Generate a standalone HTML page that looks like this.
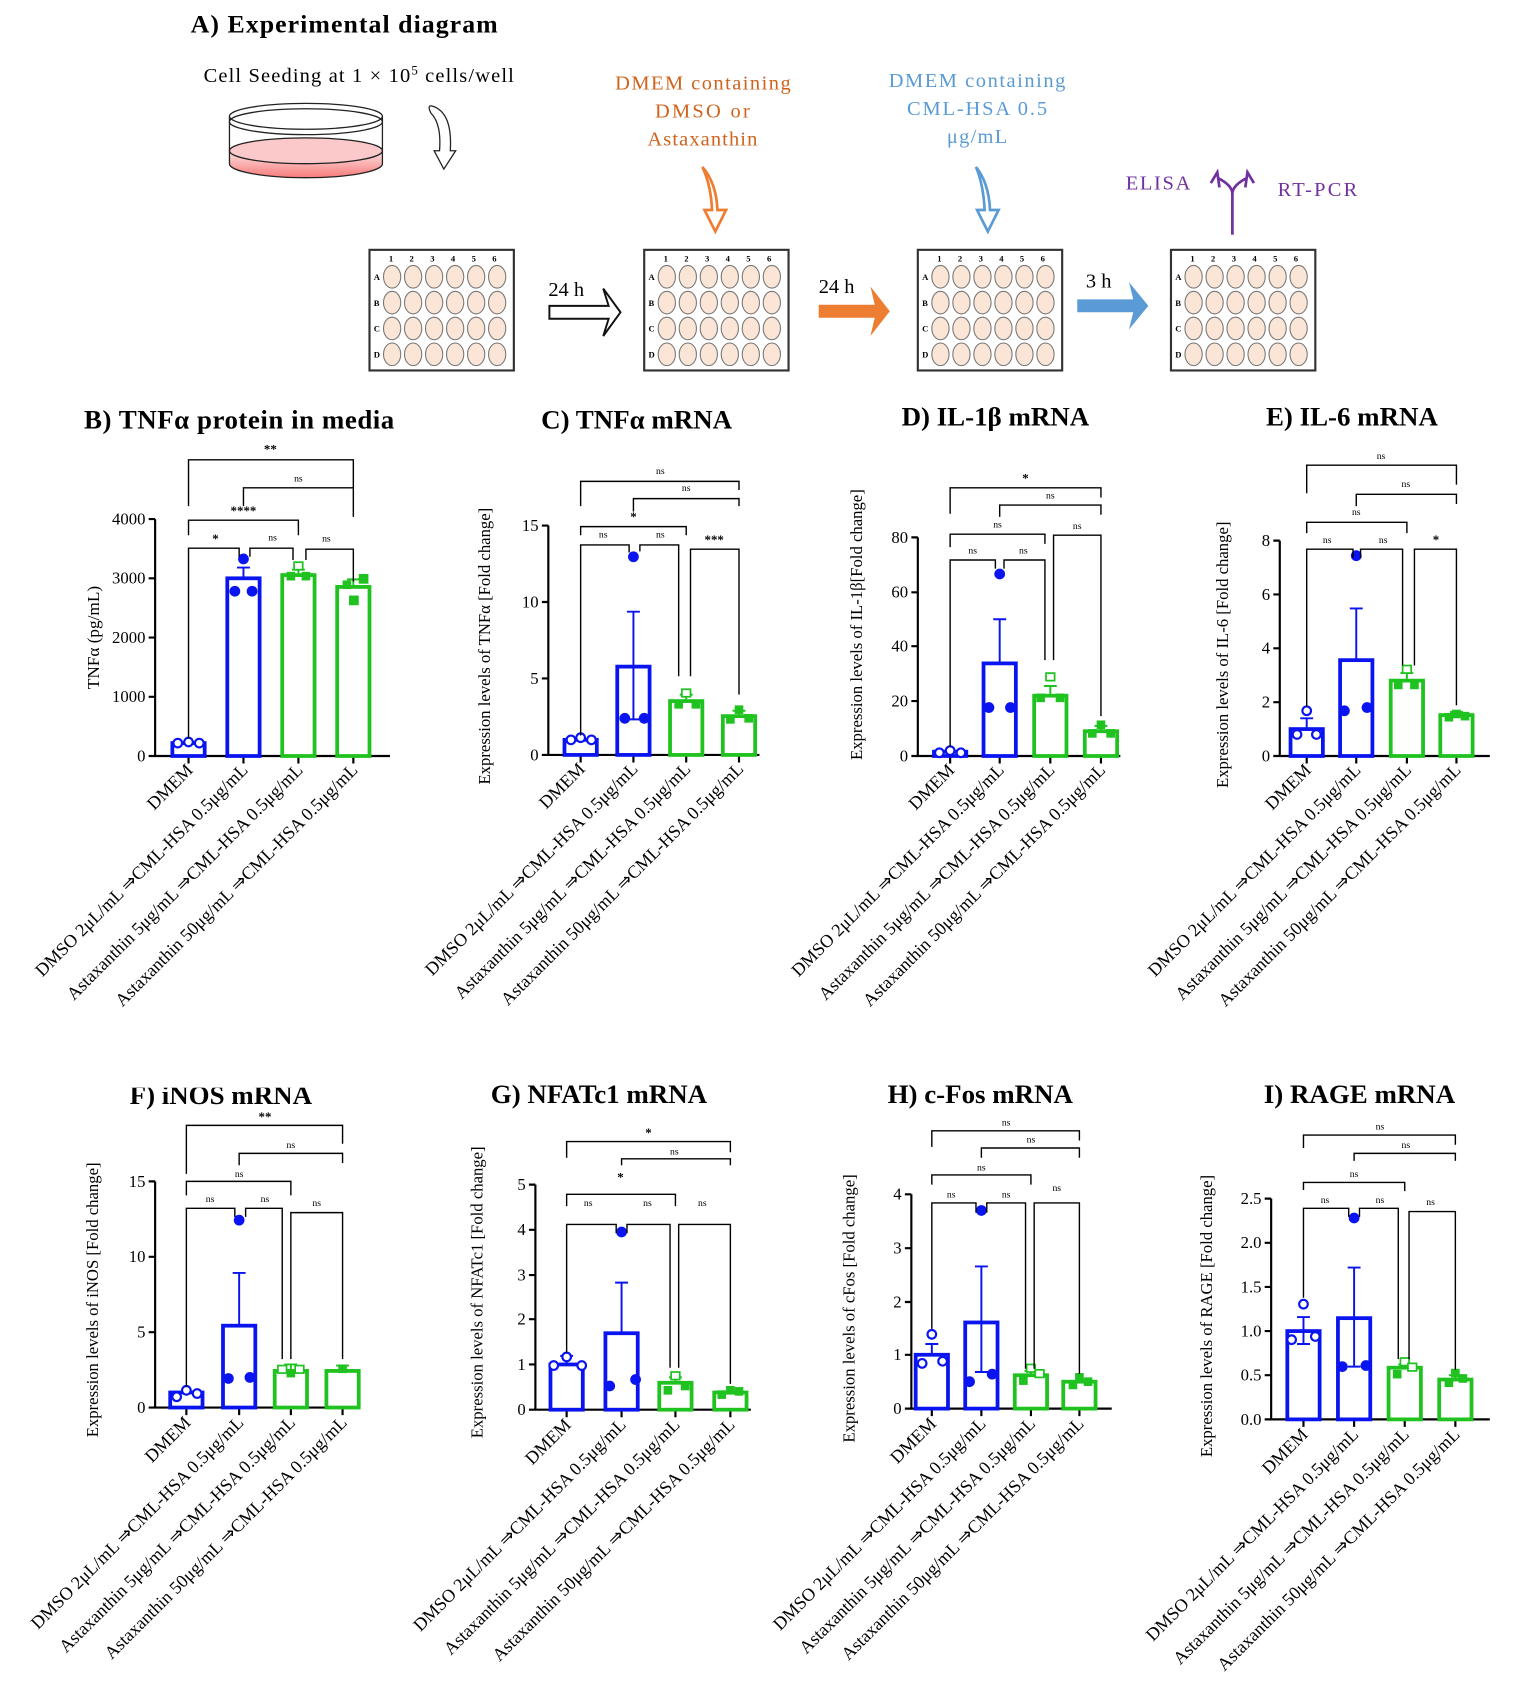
<!DOCTYPE html>
<html><head><meta charset="utf-8"><style>
html,body{margin:0;padding:0;background:#fff;}
svg{display:block;font-family:"Liberation Serif",serif;}
.t{font-weight:bold;font-size:25px;text-anchor:middle;}
.ax{stroke:#000;stroke-width:2;fill:none;}
.br{stroke:#000;stroke-width:1.3;fill:none;}
.tk{font-size:15.5px;text-anchor:end;}
.lb{font-size:9px;text-anchor:middle;}
.st{font-size:12px;font-weight:bold;text-anchor:middle;}
.xl{font-size:16.8px;text-anchor:end;}
.yl{font-size:15.5px;text-anchor:middle;}
.bb{fill:#fff;stroke:#0a14f0;stroke-width:3.5;}
.gb{fill:#fff;stroke:#1fc21f;stroke-width:3.5;}
.be{stroke:#0a14f0;stroke-width:1.8;fill:none;}
.ge{stroke:#1fc21f;stroke-width:1.8;fill:none;}
.bd{fill:#0a14f0;}
.bo{fill:#fff;stroke:#0a14f0;stroke-width:2;}
.gd{fill:#1fc21f;}
.go{fill:#fff;stroke:#1fc21f;stroke-width:1.6;}
.wl{fill:#fbe5d6;stroke:#777;stroke-width:1;}
</style></head><body>
<svg width="1520" height="1694" viewBox="0 0 1411 1573" preserveAspectRatio="none" xmlns="http://www.w3.org/2000/svg">
<defs>
<g id="row"><ellipse class="wl" cx="0" cy="0" rx="8" ry="10.5"/><ellipse class="wl" cx="19.5" cy="0" rx="8" ry="10.5"/><ellipse class="wl" cx="39" cy="0" rx="8" ry="10.5"/><ellipse class="wl" cx="58.5" cy="0" rx="8" ry="10.5"/><ellipse class="wl" cx="78" cy="0" rx="8" ry="10.5"/><ellipse class="wl" cx="97.5" cy="0" rx="8" ry="10.5"/></g>
<g id="pl"><rect x="0" y="0" width="134" height="112" fill="#fff" stroke="#333" stroke-width="2"/><use href="#row" x="21" y="25"/><use href="#row" x="21" y="49"/><use href="#row" x="21" y="73"/><use href="#row" x="21" y="97"/></g>
</defs>
<!-- Panel A -->
<text x="177" y="30" style="font-weight:bold;font-size:24px" textLength="285">A) Experimental diagram</text>
<text x="189" y="76" style="font-size:19px" textLength="288">Cell Seeding at 1 × 10<tspan dy="-7" font-size="12">5</tspan><tspan dy="7"> cells/well</tspan></text>
<defs><linearGradient id="pk" x1="0" y1="0" x2="0" y2="1"><stop offset="0" stop-color="#fde2e2"/><stop offset="1" stop-color="#f77b7b"/></linearGradient></defs>
<path d="M213 140 V152 A71 13 0 0 0 355 152 V140 Z" fill="url(#pk)"/>
<ellipse cx="284" cy="140" rx="71" ry="12" fill="#fbc9c9" stroke="#222" stroke-width="1.2"/>
<ellipse cx="284" cy="108" rx="71" ry="12" fill="none" stroke="#222" stroke-width="1.2"/>
<ellipse cx="284" cy="113" rx="71" ry="12" fill="none" stroke="#222" stroke-width="1.2"/>
<path d="M213 108 V152 A71 13 0 0 0 355 152 V108" fill="none" stroke="#222" stroke-width="1.2"/>
<path d="M400 105 Q395 95 405 100 Q420 108 418 140 L423 140 L412 157 L403 140 L408 140 Q410 115 400 105" fill="#fff" stroke="#222" stroke-width="1.2"/>
<g style="font-size:19px;fill:#d0631c"><text x="571" y="83" textLength="163">DMEM  containing</text><text x="608" y="109" textLength="88">DMSO  or</text><text x="601" y="135" textLength="102">Astaxanthin</text></g>
<g style="font-size:19px;fill:#5b9bd5"><text x="825" y="81" textLength="164">DMEM  containing</text><text x="842" y="107" textLength="130">CML-HSA  0.5</text><text x="879" y="133" textLength="56">μg/mL</text></g>
<path d="M652 155 Q665 170 666 195 L674 195 L664 215 L654 195 L661 195 Q660 172 652 155" fill="#fff" stroke="#ed7d31" stroke-width="2.5"/>
<path d="M906 155 Q918 170 919 195 L927 195 L917 215 L907 195 L914 195 Q913 172 906 155" fill="#fff" stroke="#5b9bd5" stroke-width="2.5"/>
<text x="1045" y="176" style="font-size:19px;fill:#7030a0" textLength="60">ELISA</text>
<text x="1186" y="182" style="font-size:19px;fill:#7030a0" textLength="74">RT-PCR</text>
<path d="M1144 218 V180 Q1144 172 1130 165 M1144 180 Q1144 172 1158 165 M1124 170 L1130 160 L1132 174 M1164 170 L1158 160 L1156 174" fill="none" stroke="#7030a0" stroke-width="2.5"/>
<use href="#pl" x="343" y="232"/><use href="#pl" x="598" y="232"/><use href="#pl" x="852" y="232"/><use href="#pl" x="1087" y="232"/>
<g style="font-size:8px;font-weight:bold"><text x="361" y="243" textLength="100">1 2 3 4 5 6</text><text x="616" y="243" textLength="100">1 2 3 4 5 6</text><text x="870" y="243" textLength="100">1 2 3 4 5 6</text><text x="1105" y="243" textLength="100">1 2 3 4 5 6</text></g>
<g style="font-size:8px;font-weight:bold"><text x="347" y="260">A</text><text x="347" y="284">B</text><text x="347" y="308">C</text><text x="347" y="332">D</text><text x="602" y="260">A</text><text x="602" y="284">B</text><text x="602" y="308">C</text><text x="602" y="332">D</text><text x="856" y="260">A</text><text x="856" y="284">B</text><text x="856" y="308">C</text><text x="856" y="332">D</text><text x="1091" y="260">A</text><text x="1091" y="284">B</text><text x="1091" y="308">C</text><text x="1091" y="332">D</text></g>
<text x="509" y="275" style="font-size:19px">24 h</text>
<path d="M510 284 H565 L560 268 L576 290 L560 312 L565 296 H510 Z" fill="#fff" stroke="#111" stroke-width="1.8"/>
<text x="760" y="272" style="font-size:19px">24 h</text>
<path d="M760 283 H812 L808 266 L826 289 L808 312 L812 295 H760 Z" fill="#ed7d31"/>
<text x="1008" y="267" style="font-size:19px">3 h</text>
<path d="M1000 278 H1052 L1048 262 L1066 284 L1048 306 L1052 290 H1000 Z" fill="#5b9bd5"/>

<!-- Panel B -->
<text class="t" x="222" y="398" textLength="288">B) TNFα protein in media</text>
<text class="yl" transform="translate(92,592) rotate(-90)" style="font-size:16px">TNFα (pg/mL)</text>
<path class="ax" d="M144 482 V702 H362 M138 482 H144 M138 537 H144 M138 592 H144 M138 647 H144 M138 702 H144 M175 702 V709 M226 702 V709 M277 702 V709 M328 702 V709"/>
<g class="tk"><text x="135" y="487">4000</text><text x="135" y="542">3000</text><text x="135" y="597">2000</text><text x="135" y="652">1000</text><text x="135" y="707">0</text></g>
<rect class="bb" x="160" y="690" width="30" height="12"/>
<rect class="bb" x="211" y="537" width="30" height="165"/>
<rect class="gb" x="262" y="534" width="30" height="168"/>
<rect class="gb" x="313" y="545" width="30" height="157"/>
<path class="be" d="M226 537 V527 M220 527 H232"/><path class="ge" d="M277 534 V529 M271 529 H283 M328 545 V538 M322 538 H334"/>
<circle class="bo" cx="165" cy="690" r="4"/><circle class="bo" cx="175" cy="689" r="4"/><circle class="bo" cx="185" cy="690" r="4"/>
<circle class="bd" cx="226" cy="519" r="5"/><circle class="bd" cx="218" cy="549" r="5"/><circle class="bd" cx="234" cy="549" r="5"/>
<rect class="go" x="273" y="522" width="8" height="7"/><rect class="gd" x="266" y="531" width="8" height="8"/><rect class="gd" x="280" y="531" width="8" height="8"/>
<rect class="gd" x="333" y="533" width="9" height="9"/><rect class="gd" x="324" y="553" width="9" height="9"/><rect class="gd" x="318" y="539" width="8" height="8"/>
<path class="br" d="M175 470 V427 H328 V455 M226 470 V453 H328 V480 M175 497 V483 H277 V497 M175 686 V509 H222 V517 M232 517 V509 H272 V520 M284 520 V510 H328 V540"/>
<text class="st" x="251" y="421">**</text><text class="lb" x="277" y="447">ns</text><text class="st" x="226" y="478">****</text><text class="st" x="200" y="504">*</text><text class="lb" x="253" y="502">ns</text><text class="lb" x="303" y="503">ns</text>
<g class="xl"><text transform="translate(180,716) rotate(-45)">DMEM</text><text transform="translate(231,716) rotate(-45)">DMSO 2μL/mL ⇒CML-HSA 0.5μg/mL</text><text transform="translate(282,716) rotate(-45)">Astaxanthin 5μg/mL ⇒CML-HSA 0.5μg/mL</text><text transform="translate(333,716) rotate(-45)">Astaxanthin 50μg/mL ⇒CML-HSA 0.5μg/mL</text></g>

<!-- Panel C -->
<text class="t" x="591" y="398">C) TNFα mRNA</text>
<text class="yl" transform="translate(455,600) rotate(-90)">Expression levels of TNFα [Fold change]</text>
<path class="ax" d="M509 488 V701 H705 M503 488 H509 M503 559 H509 M503 630 H509 M503 701 H509 M539 701 V708 M588 701 V708 M637 701 V708 M686 701 V708"/>
<g class="tk"><text x="500" y="493">15</text><text x="500" y="564">10</text><text x="500" y="635">5</text><text x="500" y="706">0</text></g>
<rect class="bb" x="524" y="687" width="30" height="14"/><rect class="bb" x="573" y="619" width="30" height="82"/><rect class="gb" x="622" y="651" width="30" height="50"/><rect class="gb" x="671" y="665" width="30" height="36"/>
<path class="be" d="M588 668 V568 M582 568 H594 M582 668 H594"/><path class="ge" d="M637 651 V645 M631 645 H643 M686 665 V660 M680 660 H692"/>
<circle class="bo" cx="530" cy="687" r="4"/><circle class="bo" cx="539" cy="685" r="4"/><circle class="bo" cx="549" cy="687" r="4"/>
<circle class="bd" cx="588" cy="517" r="5"/><circle class="bd" cx="580" cy="667" r="5"/><circle class="bd" cx="598" cy="667" r="5"/>
<rect class="go" x="633" y="640" width="8" height="7"/><rect class="gd" x="626" y="650" width="8" height="8"/><rect class="gd" x="642" y="650" width="8" height="8"/>
<rect class="gd" x="682" y="655" width="8" height="8"/><rect class="gd" x="674" y="664" width="8" height="8"/><rect class="gd" x="691" y="663" width="8" height="8"/>
<path class="br" d="M539 470 V447 H686 V455 M588 475 V463 H686 V470 M539 497 V489 H637 V497 M539 683 V506 H584 V513 M594 512 V506 H630 V628 M641 628 V510 H686 V645"/>
<text class="lb" x="613" y="440">ns</text><text class="lb" x="637" y="456">ns</text><text class="st" x="588" y="484">*</text><text class="lb" x="560" y="499">ns</text><text class="lb" x="613" y="499">ns</text><text class="st" x="663" y="505">***</text>
<g class="xl"><text transform="translate(544,715) rotate(-45)">DMEM</text><text transform="translate(593,715) rotate(-45)">DMSO 2μL/mL ⇒CML-HSA 0.5μg/mL</text><text transform="translate(642,715) rotate(-45)">Astaxanthin 5μg/mL ⇒CML-HSA 0.5μg/mL</text><text transform="translate(691,715) rotate(-45)">Astaxanthin 50μg/mL ⇒CML-HSA 0.5μg/mL</text></g>

<!-- Panel D -->
<text class="t" x="924" y="395">D) IL-1β mRNA</text>
<text class="yl" transform="translate(800,580) rotate(-90)">Expression levels of IL-1β[Fold change]</text>
<path class="ax" d="M852 499 V702 H1040 M846 499 H852 M846 550 H852 M846 600 H852 M846 651 H852 M846 702 H852 M882 702 V709 M928 702 V709 M975 702 V709 M1022 702 V709"/>
<g class="tk"><text x="843" y="504">80</text><text x="843" y="555">60</text><text x="843" y="605">40</text><text x="843" y="656">20</text><text x="843" y="707">0</text></g>
<rect class="bb" x="867" y="698" width="30" height="4"/><rect class="bb" x="913" y="616" width="30" height="86"/><rect class="gb" x="960" y="646" width="30" height="56"/><rect class="gb" x="1007" y="679" width="30" height="23"/>
<path class="be" d="M928 616 V575 M922 575 H934"/><path class="ge" d="M975 646 V637 M969 637 H981 M1022 679 V674 M1016 674 H1028"/>
<circle class="bo" cx="872" cy="699" r="4"/><circle class="bo" cx="882" cy="697" r="4"/><circle class="bo" cx="892" cy="699" r="4"/>
<circle class="bd" cx="928" cy="533" r="5"/><circle class="bd" cx="918" cy="657" r="5"/><circle class="bd" cx="938" cy="657" r="5"/>
<rect class="go" x="971" y="625" width="8" height="7"/><rect class="gd" x="962" y="644" width="8" height="8"/><rect class="gd" x="980" y="644" width="8" height="8"/>
<rect class="gd" x="1018" y="669" width="8" height="8"/><rect class="gd" x="1010" y="677" width="8" height="8"/><rect class="gd" x="1027" y="677" width="8" height="8"/>
<path class="br" d="M882 477 V453 H1022 V462 M928 480 V469 H1022 V478 M882 508 V496 H970 V505 M882 694 V520 H924 V528 M932 528 V520 H970 V613 M978 613 V497 H1022 V665"/>
<text class="st" x="952" y="448">*</text><text class="lb" x="975" y="463">ns</text><text class="lb" x="926" y="490">ns</text><text class="lb" x="903" y="514">ns</text><text class="lb" x="950" y="514">ns</text><text class="lb" x="1000" y="491">ns</text>
<g class="xl"><text transform="translate(887,716) rotate(-45)">DMEM</text><text transform="translate(933,716) rotate(-45)">DMSO 2μL/mL ⇒CML-HSA 0.5μg/mL</text><text transform="translate(980,716) rotate(-45)">Astaxanthin 5μg/mL ⇒CML-HSA 0.5μg/mL</text><text transform="translate(1027,716) rotate(-45)">Astaxanthin 50μg/mL ⇒CML-HSA 0.5μg/mL</text></g>

<!-- Panel E -->
<text class="t" x="1255" y="395">E) IL-6 mRNA</text>
<text class="yl" transform="translate(1140,608) rotate(-90)">Expression levels of IL-6 [Fold change]</text>
<path class="ax" d="M1188 502 V702 H1383 M1182 502 H1188 M1182 552 H1188 M1182 602 H1188 M1182 652 H1188 M1182 702 H1188 M1213 702 V709 M1259 702 V709 M1306 702 V709 M1352 702 V709"/>
<g class="tk"><text x="1179" y="507">8</text><text x="1179" y="557">6</text><text x="1179" y="607">4</text><text x="1179" y="657">2</text><text x="1179" y="707">0</text></g>
<rect class="bb" x="1198" y="677" width="30" height="25"/><rect class="bb" x="1244" y="613" width="30" height="89"/><rect class="gb" x="1291" y="632" width="30" height="70"/><rect class="gb" x="1337" y="664" width="30" height="38"/>
<path class="be" d="M1213 677 V667 M1207 667 H1219 M1259 613 V565 M1253 565 H1265"/><path class="ge" d="M1306 632 V625 M1300 625 H1312 M1352 664 V661 M1346 661 H1358"/>
<circle class="bo" cx="1213" cy="660" r="4"/><circle class="bo" cx="1204" cy="682" r="4"/><circle class="bo" cx="1222" cy="682" r="4"/>
<circle class="bd" cx="1259" cy="516" r="5"/><circle class="bd" cx="1248" cy="660" r="5"/><circle class="bd" cx="1269" cy="657" r="5"/>
<rect class="go" x="1302" y="618" width="8" height="7"/><rect class="gd" x="1294" y="632" width="8" height="8"/><rect class="gd" x="1309" y="632" width="8" height="8"/>
<rect class="gd" x="1348" y="659" width="8" height="8"/><rect class="gd" x="1341" y="662" width="8" height="8"/><rect class="gd" x="1356" y="661" width="8" height="8"/>
<path class="br" d="M1213 458 V432 H1352 V450 M1259 470 V459 H1352 V468 M1213 495 V485 H1306 V495 M1213 656 V510 H1256 V518 M1263 518 V510 H1302 V618 M1313 618 V510 H1352 V655"/>
<text class="lb" x="1282" y="426">ns</text><text class="lb" x="1305" y="452">ns</text><text class="lb" x="1259" y="478">ns</text><text class="lb" x="1232" y="504">ns</text><text class="lb" x="1284" y="504">ns</text><text class="st" x="1333" y="505">*</text>
<g class="xl"><text transform="translate(1218,716) rotate(-45)">DMEM</text><text transform="translate(1264,716) rotate(-45)">DMSO 2μL/mL ⇒CML-HSA 0.5μg/mL</text><text transform="translate(1311,716) rotate(-45)">Astaxanthin 5μg/mL ⇒CML-HSA 0.5μg/mL</text><text transform="translate(1357,716) rotate(-45)">Astaxanthin 50μg/mL ⇒CML-HSA 0.5μg/mL</text></g>

<!-- Panel F -->
<text class="t" x="205" y="1025">F) iNOS mRNA</text>
<rect x="100" y="1002" width="220" height="8" fill="#fff"/>
<text class="yl" transform="translate(91,1207) rotate(-90)">Expression levels of iNOS  [Fold change]</text>
<path class="ax" d="M144 1097 V1307 H330 M138 1097 H144 M138 1167 H144 M138 1237 H144 M138 1307 H144 M173 1307 V1314 M222 1307 V1314 M270 1307 V1314 M318 1307 V1314"/>
<g class="tk"><text x="135" y="1102">15</text><text x="135" y="1172">10</text><text x="135" y="1242">5</text><text x="135" y="1312">0</text></g>
<rect class="bb" x="158" y="1293" width="30" height="14"/><rect class="bb" x="207" y="1231" width="30" height="76"/><rect class="gb" x="255" y="1273" width="30" height="34"/><rect class="gb" x="303" y="1273" width="30" height="34"/>
<path class="be" d="M222 1231 V1182 M216 1182 H228"/><path class="ge" d="M270 1273 V1267 M264 1267 H276 M318 1273 V1268 M312 1268 H324"/>
<circle class="bo" cx="164" cy="1297" r="4"/><circle class="bo" cx="173" cy="1291" r="4"/><circle class="bo" cx="183" cy="1294" r="4"/>
<circle class="bd" cx="222" cy="1133" r="5"/><circle class="bd" cx="212" cy="1280" r="5"/><circle class="bd" cx="232" cy="1279" r="5"/>
<rect class="go" x="258" y="1268" width="8" height="7"/><rect class="go" x="274" y="1268" width="8" height="7"/><rect class="gd" x="266" y="1272" width="8" height="7"/>
<rect class="gd" x="314" y="1267" width="8" height="8"/>
<path class="br" d="M173 1090 V1045 H318 V1062 M222 1082 V1071 H318 V1080 M173 1110 V1097 H270 V1110 M173 1288 V1122 H218 V1130 M228 1130 V1122 H262 V1262 M270 1262 V1126 H318 V1262"/>
<text class="st" x="246" y="1041">**</text><text class="lb" x="270" y="1066">ns</text><text class="lb" x="222" y="1093">ns</text><text class="lb" x="195" y="1116">ns</text><text class="lb" x="246" y="1116">ns</text><text class="lb" x="294" y="1120">ns</text>
<g class="xl"><text transform="translate(178,1322) rotate(-45)">DMEM</text><text transform="translate(227,1322) rotate(-45)">DMSO 2μL/mL ⇒CML-HSA 0.5μg/mL</text><text transform="translate(275,1322) rotate(-45)">Astaxanthin 5μg/mL ⇒CML-HSA 0.5μg/mL</text><text transform="translate(323,1322) rotate(-45)">Astaxanthin 50μg/mL ⇒CML-HSA 0.5μg/mL</text></g>

<!-- Panel G -->
<text class="t" x="556" y="1024">G) NFATc1 mRNA</text>
<text class="yl" transform="translate(448,1200) rotate(-90)">Expression levels of NFATc1 [Fold change]</text>
<path class="ax" d="M497 1100 V1309 H697 M491 1100 H497 M491 1142 H497 M491 1184 H497 M491 1225 H497 M491 1267 H497 M491 1309 H497 M526 1309 V1316 M577 1309 V1316 M627 1309 V1316 M678 1309 V1316"/>
<g class="tk"><text x="488" y="1105">5</text><text x="488" y="1147">4</text><text x="488" y="1189">3</text><text x="488" y="1230">2</text><text x="488" y="1272">1</text><text x="488" y="1314">0</text></g>
<rect class="bb" x="511" y="1267" width="30" height="42"/><rect class="bb" x="562" y="1238" width="30" height="71"/><rect class="gb" x="612" y="1284" width="30" height="25"/><rect class="gb" x="663" y="1293" width="30" height="16"/>
<path class="be" d="M526 1267 V1259 M520 1259 H532 M577 1238 V1191 M571 1191 H583"/><path class="ge" d="M627 1284 V1279 M621 1279 H633"/>
<circle class="bo" cx="526" cy="1260" r="4"/><circle class="bo" cx="514" cy="1268" r="4"/><circle class="bo" cx="540" cy="1268" r="4"/>
<circle class="bd" cx="577" cy="1144" r="5"/><circle class="bd" cx="566" cy="1287" r="5"/><circle class="bd" cx="590" cy="1281" r="5"/>
<rect class="go" x="623" y="1274" width="8" height="7"/><rect class="gd" x="616" y="1287" width="8" height="8"/><rect class="gd" x="632" y="1283" width="8" height="8"/>
<rect class="gd" x="666" y="1291" width="8" height="8"/><rect class="gd" x="674" y="1287" width="8" height="8"/><rect class="gd" x="682" y="1288" width="8" height="8"/>
<path class="br" d="M526 1075 V1060 H678 V1070 M577 1082 V1076 H678 V1082 M526 1120 V1109 H627 V1120 M526 1256 V1137 H572 V1145 M582 1145 V1137 H622 V1270 M630 1270 V1137 H678 V1285"/>
<text class="st" x="602" y="1056">*</text><text class="lb" x="626" y="1072">ns</text><text class="st" x="576" y="1097">*</text><text class="lb" x="546" y="1120">ns</text><text class="lb" x="601" y="1120">ns</text><text class="lb" x="652" y="1120">ns</text>
<g class="xl"><text transform="translate(531,1324) rotate(-45)">DMEM</text><text transform="translate(582,1324) rotate(-45)">DMSO 2μL/mL ⇒CML-HSA 0.5μg/mL</text><text transform="translate(632,1324) rotate(-45)">Astaxanthin 5μg/mL ⇒CML-HSA 0.5μg/mL</text><text transform="translate(683,1324) rotate(-45)">Astaxanthin 50μg/mL ⇒CML-HSA 0.5μg/mL</text></g>

<!-- Panel H -->
<text class="t" x="910" y="1024">H) c-Fos mRNA</text>
<text class="yl" transform="translate(793,1215) rotate(-90)">Expression levels of cFos [Fold change]</text>
<path class="ax" d="M846 1109 V1308 H1032 M840 1109 H846 M840 1159 H846 M840 1209 H846 M840 1258 H846 M840 1308 H846 M865 1308 V1315 M911 1308 V1315 M957 1308 V1315 M1002 1308 V1315"/>
<g class="tk"><text x="837" y="1114">4</text><text x="837" y="1164">3</text><text x="837" y="1214">2</text><text x="837" y="1263">1</text><text x="837" y="1313">0</text></g>
<rect class="bb" x="850" y="1258" width="30" height="50"/><rect class="bb" x="896" y="1228" width="30" height="80"/><rect class="gb" x="942" y="1277" width="30" height="31"/><rect class="gb" x="987" y="1283" width="30" height="25"/>
<path class="be" d="M865 1258 V1248 M859 1248 H871 M911 1228 V1176 M905 1176 H917 M911 1228 V1274 M905 1274 H917"/><path class="ge" d="M957 1277 V1273 M951 1273 H963"/>
<circle class="bo" cx="865" cy="1239" r="4"/><circle class="bo" cx="856" cy="1266" r="4"/><circle class="bo" cx="875" cy="1264" r="4"/>
<circle class="bd" cx="911" cy="1124" r="5"/><circle class="bd" cx="900" cy="1283" r="5"/><circle class="bd" cx="921" cy="1276" r="5"/>
<rect class="go" x="953" y="1267" width="8" height="7"/><rect class="gd" x="946" y="1278" width="8" height="8"/><rect class="go" x="961" y="1272" width="8" height="7"/>
<rect class="gd" x="998" y="1275" width="8" height="8"/><rect class="gd" x="992" y="1282" width="8" height="8"/><rect class="gd" x="1006" y="1279" width="8" height="8"/>
<path class="br" d="M865 1065 V1050 H1002 V1059 M911 1075 V1066 H1002 V1075 M865 1100 V1091 H957 V1100 M865 1234 V1117 H906 V1126 M916 1126 V1117 H952 V1271 M960 1271 V1117 H1002 V1276"/>
<text class="lb" x="934" y="1045">ns</text><text class="lb" x="957" y="1061">ns</text><text class="lb" x="911" y="1087">ns</text><text class="lb" x="883" y="1112">ns</text><text class="lb" x="934" y="1112">ns</text><text class="lb" x="981" y="1106">ns</text>
<g class="xl"><text transform="translate(870,1323) rotate(-45)">DMEM</text><text transform="translate(916,1323) rotate(-45)">DMSO 2μL/mL ⇒CML-HSA 0.5μg/mL</text><text transform="translate(962,1323) rotate(-45)">Astaxanthin 5μg/mL ⇒CML-HSA 0.5μg/mL</text><text transform="translate(1007,1323) rotate(-45)">Astaxanthin 50μg/mL ⇒CML-HSA 0.5μg/mL</text></g>

<!-- Panel I -->
<text class="t" x="1262" y="1024">I) RAGE mRNA</text>
<text class="yl" transform="translate(1125,1222) rotate(-90)">Expression levels of RAGE [Fold change]</text>
<path class="ax" d="M1180 1113 V1318 H1383 M1174 1113 H1180 M1174 1154 H1180 M1174 1195 H1180 M1174 1236 H1180 M1174 1277 H1180 M1174 1318 H1180 M1210 1318 V1325 M1257 1318 V1325 M1304 1318 V1325 M1351 1318 V1325"/>
<g class="tk"><text x="1171" y="1118">2.5</text><text x="1171" y="1159">2.0</text><text x="1171" y="1200">1.5</text><text x="1171" y="1241">1.0</text><text x="1171" y="1282">0.5</text><text x="1171" y="1323">0.0</text></g>
<rect class="bb" x="1195" y="1236" width="30" height="82"/><rect class="bb" x="1242" y="1224" width="30" height="94"/><rect class="gb" x="1289" y="1270" width="30" height="48"/><rect class="gb" x="1336" y="1281" width="30" height="37"/>
<path class="be" d="M1210 1236 V1223 M1204 1223 H1216 M1210 1236 V1248 M1204 1248 H1216 M1257 1224 V1177 M1251 1177 H1263 M1257 1224 V1269 M1251 1269 H1263"/><path class="ge" d="M1304 1270 V1267 M1298 1267 H1310 M1351 1281 V1277 M1345 1277 H1357"/>
<circle class="bo" cx="1210" cy="1211" r="4"/><circle class="bo" cx="1199" cy="1244" r="4"/><circle class="bo" cx="1221" cy="1241" r="4"/>
<circle class="bd" cx="1257" cy="1131" r="5"/><circle class="bd" cx="1246" cy="1269" r="5"/><circle class="bd" cx="1268" cy="1268" r="5"/>
<rect class="go" x="1300" y="1261" width="8" height="7"/><rect class="gd" x="1293" y="1272" width="8" height="8"/><rect class="go" x="1307" y="1266" width="8" height="7"/>
<rect class="gd" x="1347" y="1271" width="8" height="8"/><rect class="gd" x="1341" y="1280" width="8" height="8"/><rect class="gd" x="1354" y="1276" width="8" height="8"/>
<path class="br" d="M1210 1066 V1054 H1351 V1063 M1257 1078 V1071 H1351 V1078 M1210 1105 V1098 H1304 V1106 M1210 1205 V1122 H1252 V1130 M1262 1130 V1122 H1298 V1262 M1308 1262 V1125 H1351 V1272"/>
<text class="lb" x="1281" y="1049">ns</text><text class="lb" x="1305" y="1066">ns</text><text class="lb" x="1257" y="1093">ns</text><text class="lb" x="1230" y="1117">ns</text><text class="lb" x="1281" y="1117">ns</text><text class="lb" x="1328" y="1119">ns</text>
<g class="xl"><text transform="translate(1215,1333) rotate(-45)">DMEM</text><text transform="translate(1262,1333) rotate(-45)">DMSO 2μL/mL ⇒CML-HSA 0.5μg/mL</text><text transform="translate(1309,1333) rotate(-45)">Astaxanthin 5μg/mL ⇒CML-HSA 0.5μg/mL</text><text transform="translate(1356,1333) rotate(-45)">Astaxanthin 50μg/mL ⇒CML-HSA 0.5μg/mL</text></g>
</svg>
</body></html>
